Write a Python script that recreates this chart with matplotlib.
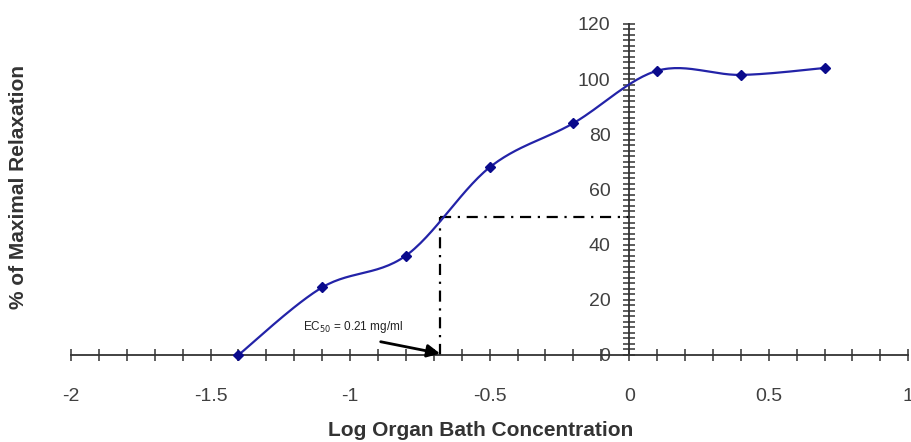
import numpy as np
import matplotlib

matplotlib.use("Agg")
import matplotlib.pyplot as plt
from matplotlib.ticker import MultipleLocator

plt.rcParams["font.family"] = ["Liberation Sans", "DejaVu Sans"]

# Data
log_conc = [-1.4, -1.1, -0.8, -0.5, -0.2, 0.1, 0.4, 0.7]
relaxation = [0.0, 24.5, 36.0, 68.0, 84.0, 103.0, 101.5, 104.0]
ec50_log = np.log10(0.21)
ec50_level = 50

LINE = "#2323A8"
MARKER = "#0A0A8C"
TEXT = "#404040"


def smooth(x, y, steps=30):
    """Excel-style smoothed line (Catmull-Rom Bezier through the points)."""
    x = np.asarray(x, float)
    y = np.asarray(y, float)
    px = np.concatenate([[x[0]], x, [x[-1]]])
    py = np.concatenate([[y[0]], y, [y[-1]]])
    xs, ys = [], []
    t = np.linspace(0, 1, steps)
    for i in range(1, len(px) - 2):
        p0 = np.array([px[i], py[i]])
        p3 = np.array([px[i + 1], py[i + 1]])
        c1 = p0 + (np.array([px[i + 1], py[i + 1]]) - np.array([px[i - 1], py[i - 1]])) / 6
        c2 = p3 - (np.array([px[i + 2], py[i + 2]]) - np.array([px[i], py[i]])) / 6
        b = ((1 - t) ** 3)[:, None] * p0 + (3 * (1 - t) ** 2 * t)[:, None] * c1 \
            + (3 * (1 - t) * t ** 2)[:, None] * c2 + (t ** 3)[:, None] * p3
        xs.extend(b[:, 0])
        ys.extend(b[:, 1])
    return np.array(xs), np.array(ys)


fig = plt.figure(figsize=(9.11, 4.42), dpi=100)
ax = fig.add_axes([0.078, 0.197, 0.919, 0.749])

sx, sy = smooth(log_conc, relaxation)
ax.plot(sx, sy, color=LINE, lw=1.6, zorder=3, clip_on=False)
ax.plot(log_conc, relaxation, linestyle="none", marker="D", ms=5.5,
        color=MARKER, zorder=4, clip_on=False)

# EC50 guide lines
ax.plot([ec50_log, ec50_log], [0, ec50_level], color="black", lw=1.6,
        linestyle=(0, (5, 3, 1, 3)), zorder=2)
ax.plot([ec50_log, 0], [ec50_level, ec50_level], color="black", lw=1.6,
        linestyle=(0, (5, 3, 1, 3)), zorder=2)
ax.annotate("EC$_{50}$ = 0.21 mg/ml", xy=(ec50_log, 0.5), xytext=(-1.17, 10),
            fontsize=8.5, color="#222222", va="center", ha="left",
            arrowprops=dict(arrowstyle="-|>,head_length=0.9,head_width=0.45",
                            color="black", lw=2.0, shrinkA=0, shrinkB=0,
                            relpos=(0.78, -0.4)))

ax.set_xlim(-2, 1)
ax.set_ylim(0, 120)

for side in ("top", "right"):
    ax.spines[side].set_visible(False)
ax.spines["left"].set_position(("data", 0))
ax.spines["left"].set_bounds(0, 120)
for side in ("left", "bottom"):
    ax.spines[side].set_color("#333333")
    ax.spines[side].set_linewidth(1.3)

ax.xaxis.set_major_locator(MultipleLocator(0.5))
ax.xaxis.set_minor_locator(MultipleLocator(0.1))
ax.yaxis.set_major_locator(MultipleLocator(20))
ax.yaxis.set_minor_locator(MultipleLocator(2))

ax.tick_params(axis="x", which="both", direction="inout", length=9, width=1.1,
               color="#333333", pad=19)
ax.tick_params(axis="y", which="both", direction="inout", length=9, width=1.1,
               color="#333333", pad=9)
ax.tick_params(axis="both", which="major", labelsize=14, labelcolor=TEXT)

ax.xaxis.set_major_formatter(lambda v, p: f"{v:g}")
ax.yaxis.set_major_formatter(lambda v, p: f"{v:g}")

fig.text(0.528, 0.025, "Log Organ Bath Concentration", ha="center", va="center",
         fontsize=15, fontweight="bold", color="#333333")
fig.text(0.02, 0.577, "% of Maximal Relaxation", ha="center", va="center",
         rotation=90, fontsize=15, fontweight="bold", color="#333333")

fig.savefig("out.png", dpi=100)
